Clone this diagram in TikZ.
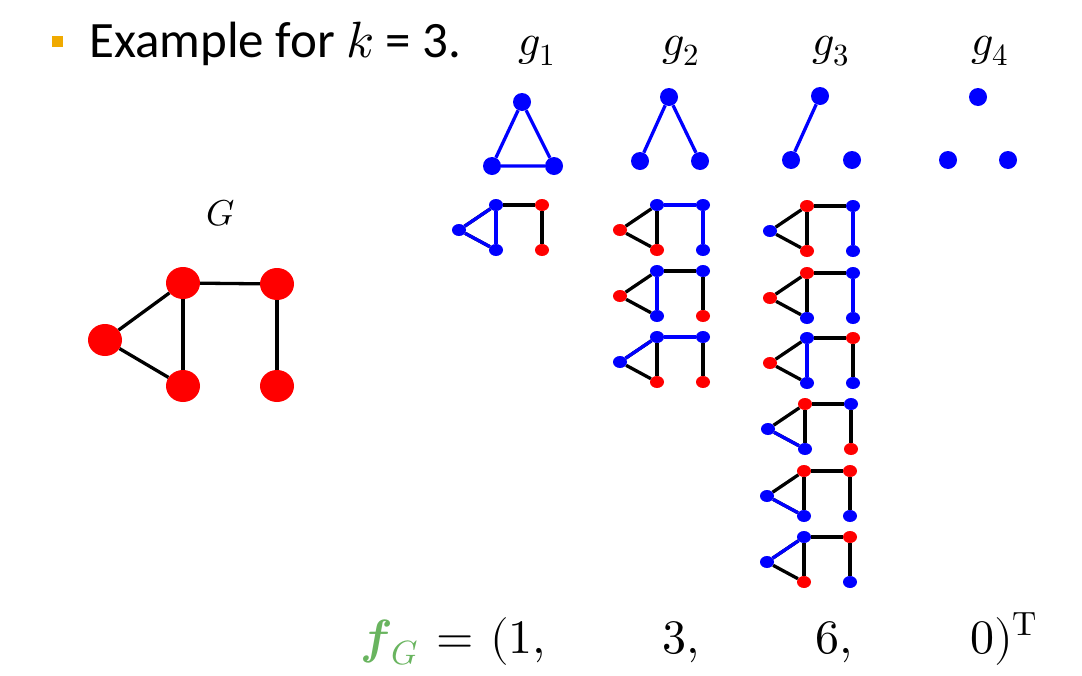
\documentclass[tikz,border=0pt]{standalone}
\usepackage{fontspec}
\usepackage{unicode-math}
\setmainfont{Carlito}
\setmathfont{Latin Modern Math}
\usetikzlibrary{shapes.geometric}
\definecolor{fgreen}{RGB}{105,180,95}
\definecolor{bullet}{RGB}{240,170,0}
\tikzset{
  sn/.style={ellipse, minimum width=14pt, minimum height=12pt, inner sep=0pt},
  bn/.style={sn, fill=blue},
  rn/.style={sn, fill=red},
  tn/.style={circle, fill=blue, minimum size=18pt, inner sep=0pt},
  bign/.style={ellipse, fill=red, minimum width=34pt, minimum height=32pt, inner sep=0pt},
  ed/.style={line width=3.3pt, black},
  be/.style={line width=3.3pt, blue},
  lbl/.style={inner sep=0pt, anchor=base},
  vec/.style={inner sep=0pt, anchor=base west, font=\fontsize{48}{54}\selectfont}
}
% #1 name, #2 position of top-middle node, #3..#7 colours of L, TM, BM, TR, BR, #8 blue edges
\newcommand\sg[8]{%
  \begin{scope}[shift={(#2)}]
    \node[#3n] (#1L)  at (-37,25) {};
    \node[#4n] (#1TM) at (0,0) {};
    \node[#5n] (#1BM) at (0,45) {};
    \node[#6n] (#1TR) at (46,0) {};
    \node[#7n] (#1BR) at (46,45) {};
  \end{scope}
  \foreach \a/\b in {L/TM,L/BM,TM/BM,TM/TR,TR/BR} \draw[ed] (#1\a) -- (#1\b);
  \foreach \a/\b in {#8} \draw[be] (#1\a) -- (#1\b);
}
\begin{document}
\begin{tikzpicture}[x=1pt,y=-1pt]
\useasboundingbox (0,0) rectangle (1082,675);
% title
\node[fill=bullet, minimum size=11pt, inner sep=0pt] (bul) at (57,41) {};
\node[inner sep=0pt, anchor=base west, font=\fontsize{51}{56}\selectfont] (title) at (89,57) {Example for $k$ = 3.};
% labels
\node[lbl, font=\fontsize{44}{48}\selectfont] (l1) at (537,55) {$g_1$};
\node[lbl, font=\fontsize{44}{48}\selectfont] (l2) at (681,55) {$g_2$};
\node[lbl, font=\fontsize{44}{48}\selectfont] (l3) at (831,55) {$g_3$};
\node[lbl, font=\fontsize{44}{48}\selectfont] (l4) at (990,55) {$g_4$};
\node[lbl, font=\fontsize{36}{40}\selectfont] (lG) at (221,225) {$G$};
% big graph G
\node[bign] (GL) at (105,340) {};
\node[bign] (GTM) at (183,283) {};
\node[bign] (GBM) at (183,386) {};
\node[bign] (GTR) at (277,284) {};
\node[bign] (GBR) at (277,386) {};
\foreach \a/\b in {L/TM,L/BM,TM/BM,TM/TR,TR/BR} \draw[ed] (G\a) -- (G\b);
% top graphlets
\node[tn] (a1) at (522,102) {};
\node[tn] (a2) at (492,166) {};
\node[tn] (a3) at (554,166) {};
\draw[be] (a1) -- (a2) -- (a3) -- (a1);
\node[tn] (b1) at (669,97) {};
\node[tn] (b2) at (640,161) {};
\node[tn] (b3) at (700,161) {};
\draw[be] (b2) -- (b1) -- (b3);
\node[tn] (c1) at (820,96) {};
\node[tn] (c2) at (791,160) {};
\node[tn] (c3) at (852,160) {};
\draw[be] (c1) -- (c2);
\node[tn] (d1) at (978,97) {};
\node[tn] (d2) at (948,160) {};
\node[tn] (d3) at (1008,160) {};
% g1 column
\sg{p}{496,205}{b}{b}{b}{r}{r}{L/TM,L/BM,TM/BM}
% g2 column
\sg{q}{657,205}{r}{b}{r}{b}{b}{TM/TR,TR/BR}
\sg{r}{657,271}{r}{b}{b}{b}{r}{TM/BM}
\sg{s}{657,337}{b}{b}{r}{b}{r}{L/TM,TM/TR}
% g3 column
\sg{t}{807,206}{b}{r}{r}{b}{b}{TR/BR}
\sg{u}{807,273}{r}{r}{b}{b}{b}{TR/BR}
\sg{v}{807,338}{r}{b}{b}{r}{b}{TM/BM}
\sg{w}{805,404}{b}{r}{b}{b}{r}{L/BM}
\sg{x}{804,471}{b}{r}{b}{r}{b}{L/BM}
\sg{y}{804,537}{b}{b}{r}{r}{b}{L/TM}
% feature vector
\node[vec] (fg) at (360,653) {$\symbfit{\color{fgreen}f}_{\color{fgreen}G}$};
\node[vec] (eq) at (436,653) {$=$};
\node[vec] (f1) at (490,653) {$(1,$};
\node[vec] (f2) at (662,653) {$3,$};
\node[vec] (f3) at (815,653) {$6,$};
\node[vec] (f4) at (970,653) {$0)^{\symup{T}}$};
\end{tikzpicture}
\end{document}
